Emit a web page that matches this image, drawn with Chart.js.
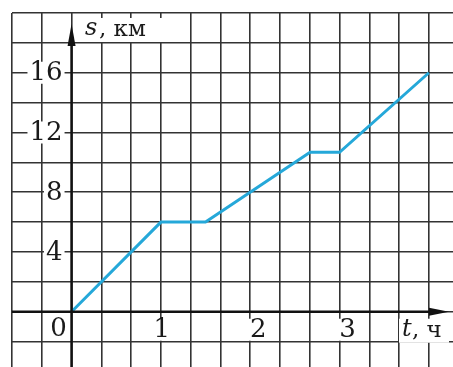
<!DOCTYPE html>
<html>
<head>
<meta charset="utf-8">
<script src="https://cdn.jsdelivr.net/npm/chart.js@4"></script>
<style>
  html, body { margin: 0; padding: 0; background: #fff; }
  #wrap { width: 453px; height: 367px; }
</style>
</head>
<body>
<div id="wrap"><canvas id="c"></canvas></div>
<script>
// --- 資料 ---
const tHours = [0, 1, 1.5, 2.67, 3, 4];
const sKm = [0, 6, 6, 10.67, 10.67, 16];
const yLabels = [4, 8, 12, 16];
const xLabels = [1, 2, 3];
const xLabelShift = [1, 8, 8]; // 數字相對刻度的偏移

const FONT = '"DejaVu Serif", "Liberation Serif", serif';

// 軸線、箭頭與文字
const axesPlugin = {
    id: 'axes',
    afterDraw(chart) {
        const ctx = chart.ctx;
        const xs = chart.scales.x, ys = chart.scales.y;
        const x0 = xs.getPixelForValue(0), y0 = ys.getPixelForValue(0);
        const area = chart.chartArea;
        ctx.save();
        ctx.strokeStyle = '#111';
        ctx.fillStyle = '#111';
        ctx.lineWidth = 2.5;
        // y 軸
        ctx.beginPath();
        ctx.moveTo(x0, area.bottom);
        ctx.lineTo(x0, 40);
        ctx.stroke();
        ctx.beginPath();
        ctx.moveTo(x0, 24);
        ctx.lineTo(x0 - 4, 46);
        ctx.lineTo(x0 + 4, 46);
        ctx.closePath();
        ctx.fill();
        // x 軸
        ctx.beginPath();
        ctx.moveTo(area.left, y0);
        ctx.lineTo(435, y0);
        ctx.stroke();
        ctx.beginPath();
        ctx.moveTo(449, y0);
        ctx.lineTo(429, y0 - 4);
        ctx.lineTo(429, y0 + 4);
        ctx.closePath();
        ctx.fill();

        function label(text, x, y, align, font) {
            ctx.font = font;
            const w = ctx.measureText(text).width;
            const left = align === 'right' ? x - w : x - w / 2;
            ctx.fillStyle = '#fff';
            ctx.fillRect(left - 2, y - 11, w + 4, 22);
            ctx.fillStyle = '#1a1a1a';
            ctx.textAlign = align;
            ctx.textBaseline = 'middle';
            ctx.fillText(text, x, y + 1);
        }
        const numFont = '26px ' + FONT;
        yLabels.forEach(v => label(String(v), x0 - 9, ys.getPixelForValue(v), 'right', numFont));
        label('0', x0 - 13, y0 + 17, 'center', numFont);
        xLabels.forEach((v, i) => label(String(v), xs.getPixelForValue(v) + xLabelShift[i], y0 + 18, 'center', numFont));

        // 軸名
        ctx.fillStyle = '#fff';
        ctx.fillRect(83, 18, 80, 24);
        ctx.fillRect(399, y0 + 7, 50, 24);
        ctx.fillStyle = '#1a1a1a';
        ctx.textAlign = 'left';
        ctx.textBaseline = 'middle';
        ctx.font = 'italic 24px ' + FONT;
        ctx.fillText('s', 85, 29);
        ctx.font = '23px ' + FONT;
        ctx.fillText(', км', 99, 30);
        ctx.font = 'italic 24px ' + FONT;
        ctx.fillText('t', 402, y0 + 18);
        ctx.font = '23px ' + FONT;
        ctx.fillText(', ч', 412, y0 + 19);
        ctx.restore();
    }
};

new Chart(document.getElementById('c'), {
    type: 'line',
    data: {
        datasets: [{
            data: tHours.map((t, i) => ({ x: t, y: sKm[i] })),
            borderColor: '#25a8d9',
            borderWidth: 3,
            pointRadius: 0,
            tension: 0
        }]
    },
    options: {
        responsive: true,
        maintainAspectRatio: false,
        animation: false,
        layout: { padding: { left: 12, top: 13, right: 0, bottom: 0 } },
        plugins: { legend: { display: false }, tooltip: { enabled: false } },
        scales: {
            x: {
                type: 'linear',
                min: -2 / 3,
                max: 4.27,
                afterBuildTicks(scale) {
                    const ticks = [];
                    for (let k = -2; k <= 12; k++) ticks.push({ value: k / 3 });
                    scale.ticks = ticks;
                },
                ticks: { display: false },
                border: { display: false },
                grid: { color: '#333', lineWidth: 1.6, drawTicks: false }
            },
            y: {
                type: 'linear',
                min: -3.7,
                max: 20,
                afterBuildTicks(scale) {
                    const ticks = [];
                    for (let v = -2; v <= 20; v += 2) ticks.push({ value: v });
                    scale.ticks = ticks;
                },
                ticks: { display: false },
                border: { display: false },
                grid: { color: '#333', lineWidth: 1.6, drawTicks: false }
            }
        }
    },
    plugins: [axesPlugin]
});
</script>
</body>
</html>
